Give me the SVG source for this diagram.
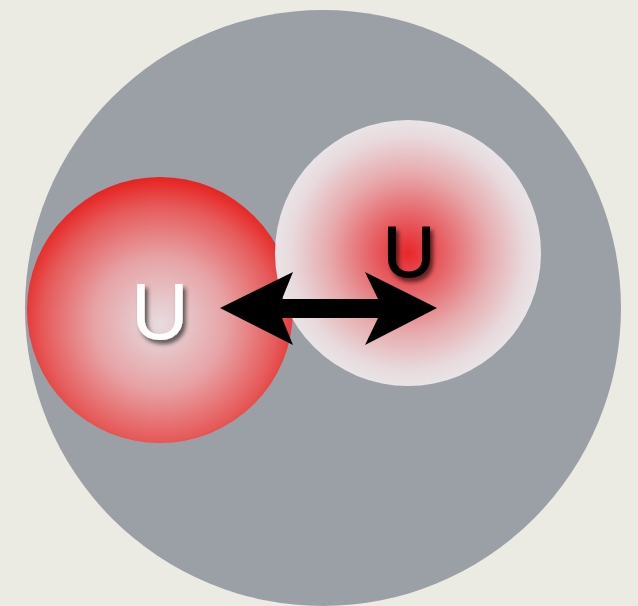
<svg xmlns="http://www.w3.org/2000/svg" width="638" height="606" viewBox="0 0 638 606">
<defs>
<radialGradient id="gL" cx="0.5" cy="0.55" r="0.55">
<stop offset="0" stop-color="#e6dcdf"/>
<stop offset="0.45" stop-color="#e7a3a6"/>
<stop offset="0.8" stop-color="#e65a5a"/>
<stop offset="1" stop-color="#e62220"/>
</radialGradient>
<radialGradient id="gR" cx="0.5" cy="0.5" r="0.5">
<stop offset="0" stop-color="#e8262a"/>
<stop offset="0.3" stop-color="#e6676b"/>
<stop offset="0.6" stop-color="#e7abae"/>
<stop offset="0.88" stop-color="#e8dadd"/>
<stop offset="1" stop-color="#e9e4e6"/>
</radialGradient>
<filter id="sh" x="-30%" y="-30%" width="160%" height="160%">
<feGaussianBlur in="SourceAlpha" stdDeviation="2"/>
<feOffset dx="3" dy="4" result="b"/>
<feFlood flood-color="#000" flood-opacity="0.6"/>
<feComposite in2="b" operator="in"/>
<feMerge><feMergeNode/><feMergeNode in="SourceGraphic"/></feMerge>
</filter>
</defs>
<style>
.lbl{font-family:"Liberation Sans",Arial,sans-serif;text-anchor:middle}
</style>
<rect width="638" height="606" fill="#ecebe3"/>
<g id="outer"><circle cx="323" cy="308" r="298" fill="#9aa0a6"/></g>
<g id="left"><circle cx="160" cy="310" r="133" fill="url(#gL)"/>
<text class="lbl" x="160" y="339" font-size="80" fill="#ffffff" filter="url(#sh)">U</text></g>
<g id="right"><circle cx="408" cy="253" r="133" fill="url(#gR)"/>
<text class="lbl" x="409" y="277" font-size="72" fill="#000000" stroke="#000" stroke-width="1.2" filter="url(#sh)">U</text></g>
<g id="connectors">
<polygon points="220,308 293,272 282,299 378,299 365,272 437,308 365,345 378,318 282,318 293,345" fill="#000"/>
</g>
</svg>
